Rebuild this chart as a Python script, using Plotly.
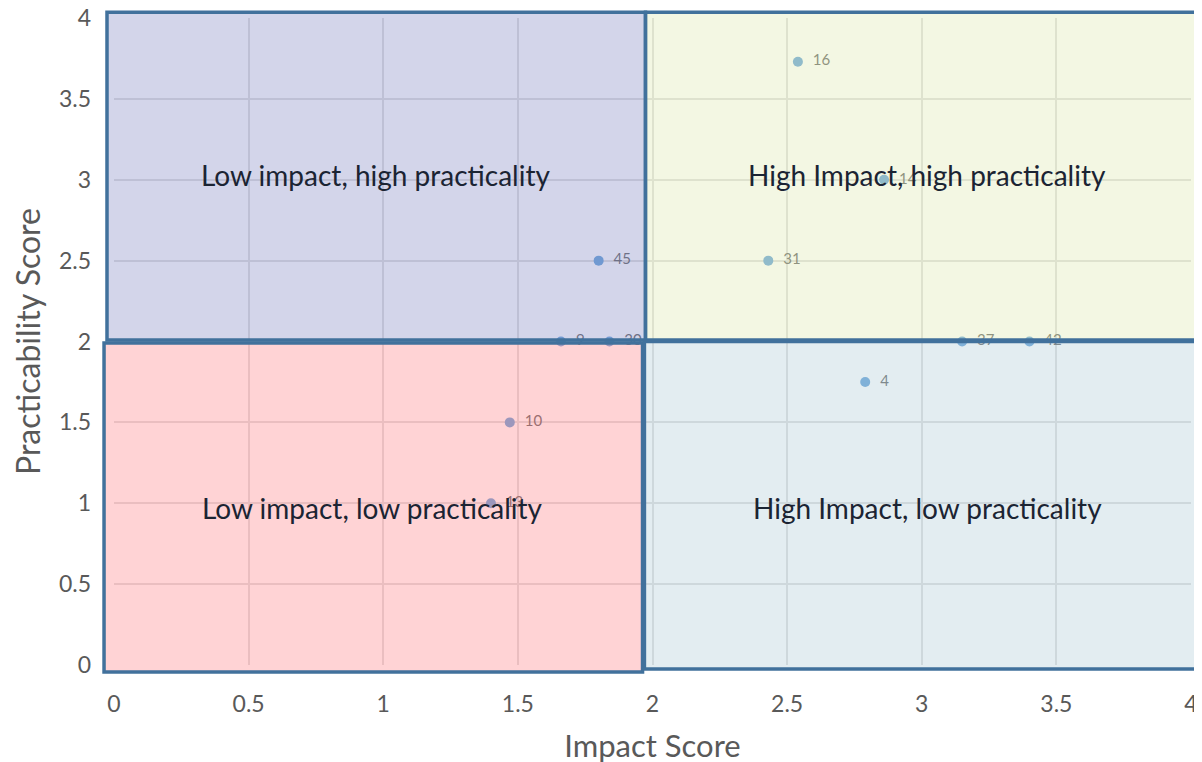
import plotly.graph_objects as go

# ---- data ----
ids = ["16", "14", "45", "31", "9", "30", "37", "42", "4", "10", "13"]
impact = [2.54, 2.86, 1.80, 2.43, 1.66, 1.84, 3.15, 3.40, 2.79, 1.47, 1.40]
practicability = [3.73, 3.0, 2.5, 2.5, 2.0, 2.0, 2.0, 2.0, 1.75, 1.5, 1.0]

quadrant_labels = ["Low impact, high practicality", "High Impact, high practicality",
                   "Low impact, low practicality", "High Impact, low practicality"]
label_x = [0.97, 3.02, 0.96, 3.02]
label_y = [3.03, 3.03, 0.97, 0.97]

tick_vals = [0, 0.5, 1, 1.5, 2, 2.5, 3, 3.5, 4]
tick_text = ["0", "0.5", "1", "1.5", "2", "2.5", "3", "3.5", "4"]

# quadrant boxes in data units: x0, x1, y0, y1, fill
quads = [
    (-0.026, 1.974, 2.01, 4.035, "rgba(145,150,202,0.4)"),
    (1.974, 4.06, 2.01, 4.035, "rgba(225,235,185,0.4)"),
    (-0.037, 1.963, -0.043, 1.99, "rgba(255,145,150,0.4)"),
    (1.97, 4.06, -0.025, 2.0, "rgba(185,210,220,0.4)"),
]

XR = [0, 4]
YR = [0, 4]

def px(v):
    return (v - XR[0]) / (XR[1] - XR[0])

def py(v):
    return (v - YR[0]) / (YR[1] - YR[0])

FONT = "Lato, 'Open Sans', sans-serif"

fig = go.Figure()
fig.add_trace(go.Scatter(
    x=impact, y=practicability, mode="markers+text",
    text=["  " + t for t in ids], textposition="middle right",
    textfont=dict(size=15, color="#595959", family=FONT),
    marker=dict(size=10, color="#5b9bd5"),
    cliponaxis=False, hoverinfo="x+y+text", showlegend=False,
))

for x0, x1, y0, y1, fc in quads:
    fig.add_shape(type="rect", xref="paper", yref="paper",
                  x0=px(x0), x1=px(x1), y0=py(y0), y1=py(y1),
                  fillcolor=fc, line=dict(color="#41719c", width=3.5),
                  layer="above")

for t, x, y in zip(quadrant_labels, label_x, label_y):
    fig.add_annotation(x=x, y=y, xref="x", yref="y", text=t, showarrow=False,
                       font=dict(size=28, color="#1b2433", family=FONT))

fig.update_layout(
    width=1202, height=762,
    margin=dict(l=106, r=19, t=10, b=105),
    plot_bgcolor="white", paper_bgcolor="white",
    font=dict(family=FONT, color="#595959"),
    xaxis=dict(range=XR, tickvals=tick_vals, ticktext=tick_text, automargin=False,
               showgrid=True, gridcolor="#dcdcdc", gridwidth=1.5,
               zeroline=False, showline=False, ticks="", ticklabeloverflow="allow",
               tickfont=dict(size=23, color="#595959"), ticklabelstandoff=23,
               title=dict(text="Impact Score", font=dict(size=31, color="#595959"), standoff=19)),
    yaxis=dict(range=YR, tickvals=tick_vals, ticktext=tick_text, automargin=False,
               showgrid=True, gridcolor="#dcdcdc", gridwidth=1.5,
               zeroline=False, showline=False, ticks="", ticklabeloverflow="allow",
               tickfont=dict(size=23, color="#595959"), ticklabelstandoff=22,
               title=dict(text="Practicability Score", font=dict(size=32, color="#595959"), standoff=12)),
)

fig.write_html("out.html")
